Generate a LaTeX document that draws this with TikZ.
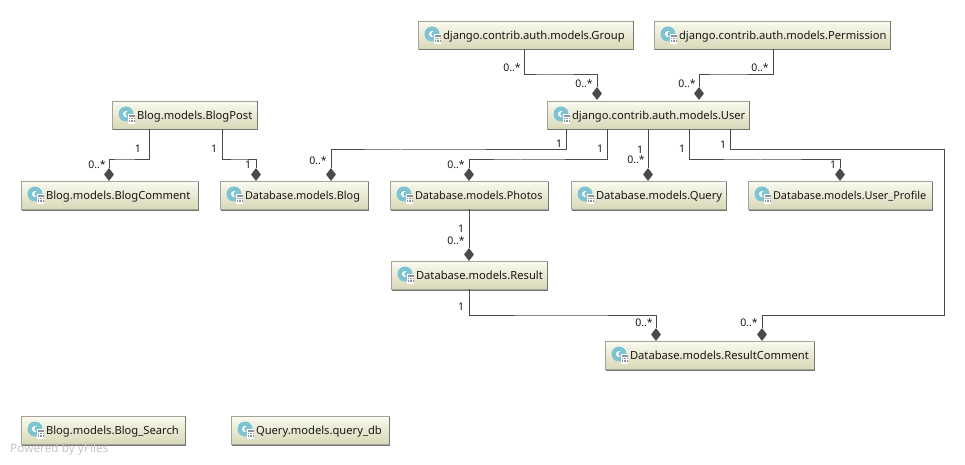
\documentclass[tikz,border=0pt]{standalone}
\usepackage{fontspec}
\setmainfont{Noto Sans}
\usetikzlibrary{shapes.geometric,calc}
\definecolor{boxtop}{HTML}{FAFAF0}
\definecolor{boxbot}{HTML}{D8D8B8}
\definecolor{boxline}{HTML}{A4A49C}
\definecolor{boxshade}{HTML}{77776F}
\definecolor{linecol}{HTML}{4A4A4A}
\definecolor{iconteal}{HTML}{7CC4D2}
\definecolor{icongrey}{HTML}{8C9298}
\newcommand{\tightfont}{\fontsize{10.9}{13}\selectfont}
\tikzset{
  cls/.style={rectangle,draw=boxline,line width=0.8pt,top color=boxtop,bottom color=boxbot,
    minimum height=28pt,inner sep=0pt,anchor=center,font=\fontsize{11.2}{13}\selectfont,text=black!90},
  conn/.style={draw=linecol,line width=1pt},
  diam/.style={diamond,fill=linecol,draw=none,inner sep=0pt,minimum width=10pt,minimum height=13pt,aspect=0.77},
  mult/.style={font=\fontsize{10.5}{12}\selectfont,text=black!90,inner sep=0pt,anchor=center}
}
% name, left, top, width, text
\newcommand{\umlclass}[5]{%
  \node[cls,minimum width=#4 pt] (#1) at ({#2+#4/2},{#3+14}) {\raisebox{-4.5pt}[0pt][0pt]{\makebox[#4pt][l]{\hspace{25pt}#5}}};
  \fill[iconteal] ({#2+14},{#3+13}) circle (7.5pt);
  \fill[white] ({#2+14},{#3+13}) circle (3pt);
  \fill[iconteal] ({#2+16},{#3+13}) circle (2.6pt);
  \fill[white] ({#2+16},{#3+13}) rectangle ({#2+23},{#3+23});
  \fill[icongrey] ({#2+16.5},{#3+14}) rectangle ({#2+23},{#3+21});
  \draw[white,line width=0.5pt] ({#2+16.5},{#3+16}) -- ({#2+23},{#3+16})
     ({#2+16.5},{#3+18.5}) -- ({#2+23},{#3+18.5}) ({#2+18.7},{#3+16}) -- ({#2+18.7},{#3+21}) ({#2+20.9},{#3+16}) -- ({#2+20.9},{#3+21});
  \draw[boxshade,line width=1pt] ({#2+0.5},{#3+29}) -- ({#2+#4+0.5},{#3+29}) -- ({#2+#4+0.5},{#3+0.5});
}
\begin{document}
\begin{tikzpicture}[x=1pt,y=-1pt]
\useasboundingbox[fill=white] (0,0) rectangle (965,465);
\umlclass{group}{418}{21}{215}{django.contrib.auth.models.Group}
\umlclass{perm}{654}{21}{236}{django.contrib.auth.models.Permission}
\umlclass{user}{547}{101}{202}{django.contrib.auth.models.User}
\umlclass{post}{112}{101}{145}{Blog.models.BlogPost}
\umlclass{comment}{21}{181}{177}{Blog.models.BlogComment}
\umlclass{blog}{220}{181}{148}{\tightfont Database.models.Blog}
\umlclass{photos}{390}{181}{158}{\tightfont Database.models.Photos}
\umlclass{query}{571}{181}{155}{Database.models.Query}
\umlclass{profile}{748}{181}{184}{\tightfont Database.models.User\_Profile}
\umlclass{result}{391}{261}{156}{Database.models.Result}
\umlclass{rcomment}{605}{341}{209}{Database.models.ResultComment}
\umlclass{search}{21}{416}{164}{Blog.models.Blog\_Search}
\umlclass{qdb}{231}{416}{158}{Query.models.query\_db}

\node[diam] (dgu) at (597,93.5) {};
\node[diam] (dpu) at (699,93.5) {};
\node[diam] (dub) at (331,174.5) {};
\node[diam] (dup) at (469,174.5) {};
\node[diam] (duq) at (648,174.5) {};
\node[diam] (dupr) at (840,174.5) {};
\node[diam] (durc) at (762,334.5) {};
\node[diam] (dpc) at (109,174.5) {};
\node[diam] (dpb) at (256,174.5) {};
\node[diam] (dphr) at (469,254.5) {};
\node[diam] (drrc) at (656,334.5) {};

\draw[conn] ([xshift=-1.5pt]group.south) |- (548,75) -| (dgu.north);
\draw[conn] ([xshift=1pt]perm.south) |- (720,75) -| (dpu.north);
\draw[conn] ([xshift=-82pt]user.south) |- (400,150) -| (dub.north);
\draw[conn] ([xshift=-41pt]user.south) |- (520,160) -| (dup.north);
\draw[conn] (user.south) -- (duq.north);
\draw[conn] ([xshift=41pt]user.south) |- (760,160) -| (dupr.north);
\draw[conn] ([xshift=82pt]user.south) |- (944,150) -- (944,315) -| (durc.north);
\draw[conn] ([xshift=-35.5pt]post.south) |- (120,160) -| (dpc.north);
\draw[conn] ([xshift=37.5pt]post.south) |- (240,160) -| (dpb.north);
\draw[conn] (photos.south) -- (dphr.north);
\draw[conn] (result.south) |- (560,315) -| (drrc.north);

\node[mult] (m1) at (512,68) {0..*};
\node[mult] (m2) at (584,84) {0..*};
\node[mult] (m3) at (687,84) {0..*};
\node[mult] (m4) at (760,68) {0..*};
\node[mult] (m5) at (318,160.5) {0..*};
\node[mult] (m6) at (456,165) {0..*};
\node[mult] (m7) at (636,160) {0..*};
\node[mult] (m8) at (97,165) {0..*};
\node[mult] (m9) at (456,241) {0..*};
\node[mult] (m10) at (644,323) {0..*};
\node[mult] (m11) at (749,323) {0..*};
\node[mult] (o1) at (559,144) {1};
\node[mult] (o2) at (600,149) {1};
\node[mult] (o3) at (640,150) {1};
\node[mult] (o4) at (682,149) {1};
\node[mult] (o5) at (723,145) {1};
\node[mult] (o6) at (833,165) {1};
\node[mult] (o7) at (138,149) {1};
\node[mult] (o8) at (214,149) {1};
\node[mult] (o9) at (248,165) {1};
\node[mult] (o10) at (461,229) {1};
\node[mult] (o11) at (461,307) {1};

\node[font=\fontsize{11.8}{14}\selectfont,text=black!22,inner sep=0pt,anchor=west] (powered) at (10,449) {Powered by yFiles};
\end{tikzpicture}
\end{document}
